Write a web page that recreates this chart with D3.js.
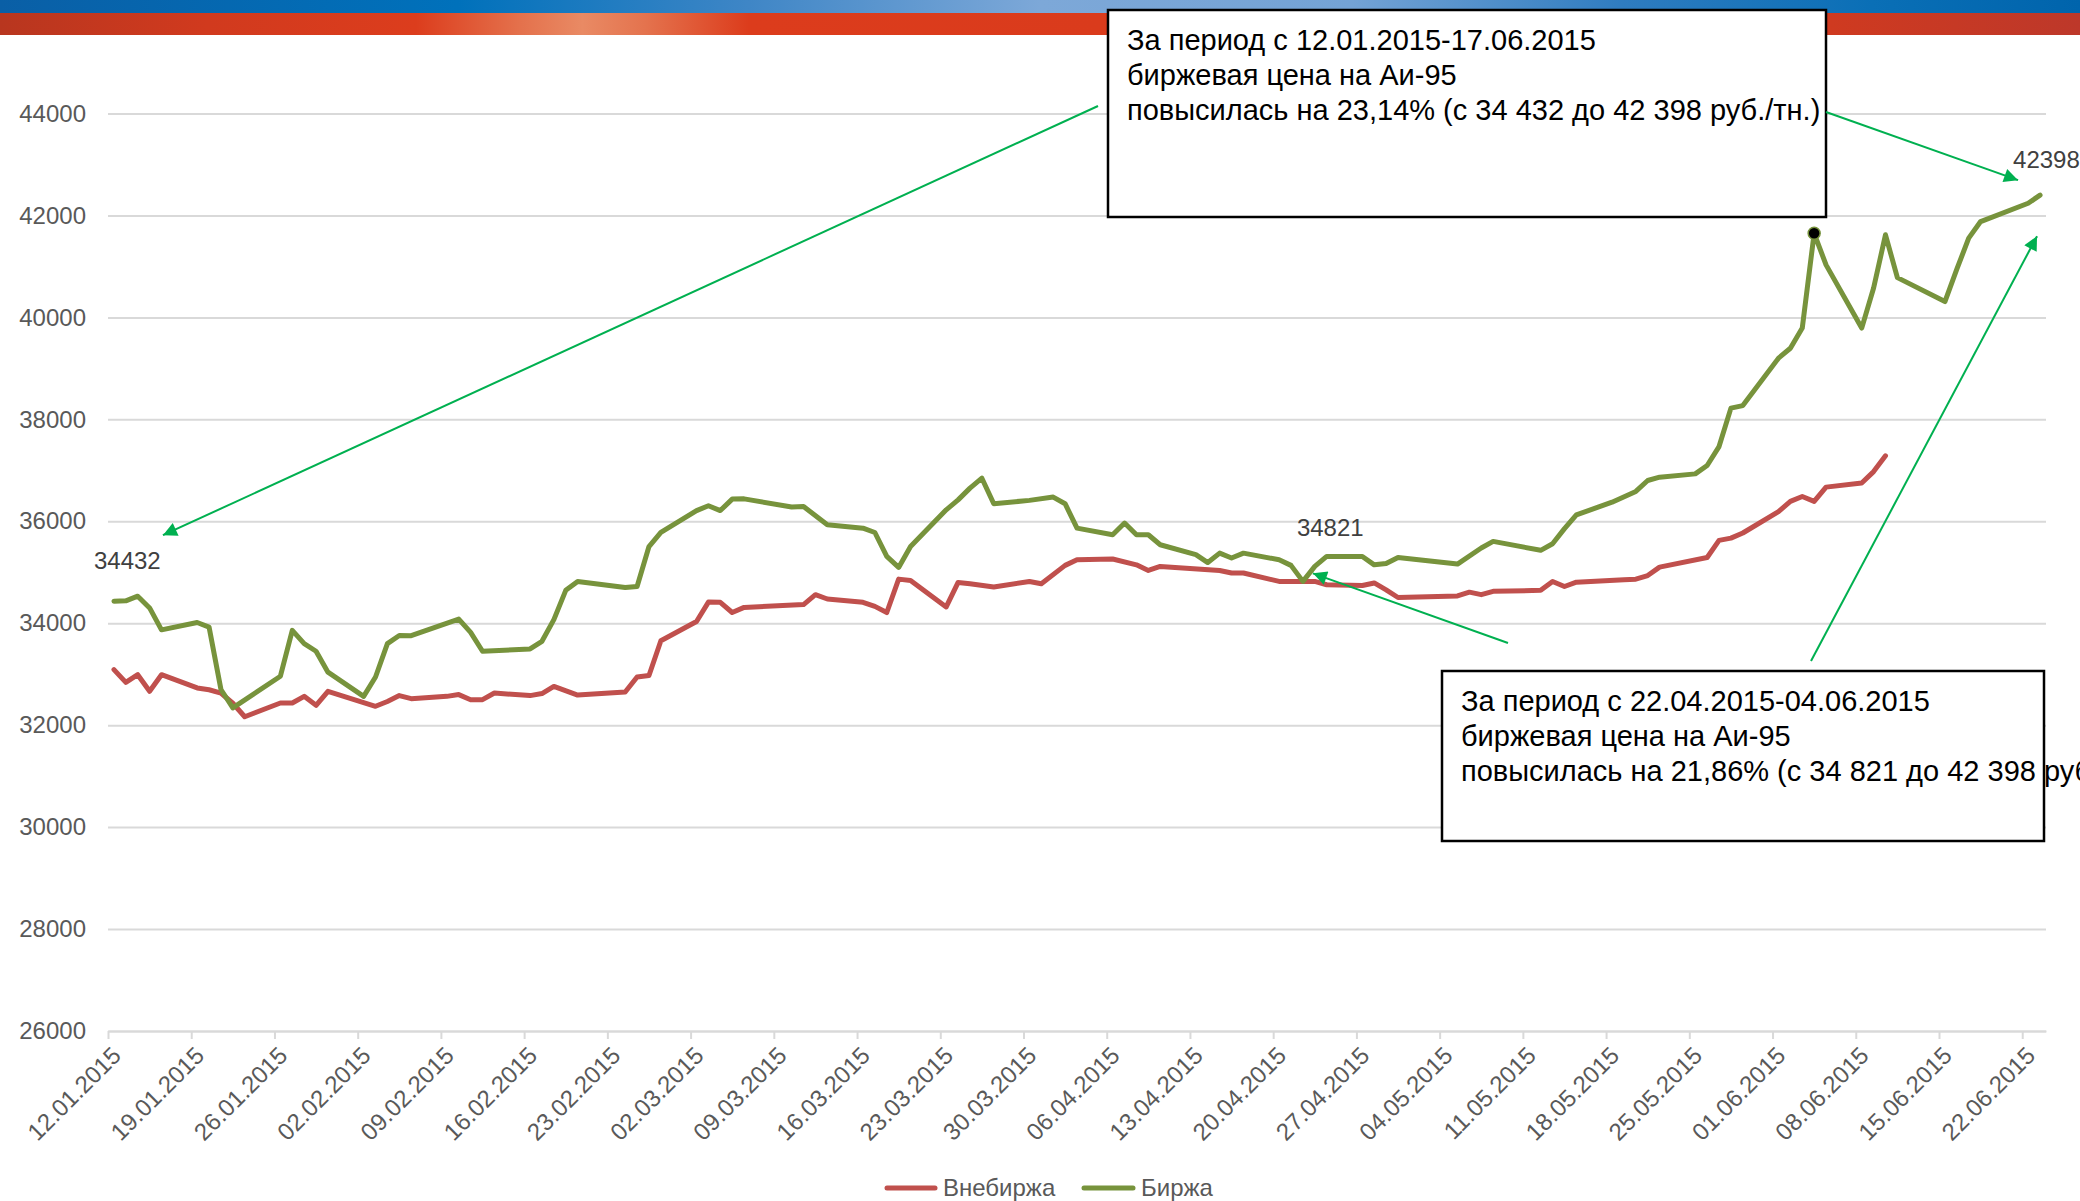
<!DOCTYPE html>
<html lang="ru">
<head>
<meta charset="utf-8">
<title>Биржа / Внебиржа</title>
<script src="https://cdn.jsdelivr.net/npm/d3@7"></script>
<style>
	html, body { margin: 0; padding: 0; background: #fff; overflow: hidden; }
	#canvas { width: 2080px; height: 1201px; }
	svg { display: block; font-family: 'Liberation Sans', Arial, sans-serif; }
</style>
</head>
<body>
<div id="canvas"></div>
<script>
// --- data ---
const birzhaDates = [
	'12.01.2015', '13.01.2015', '14.01.2015', '15.01.2015', '16.01.2015',
	'19.01.2015', '20.01.2015', '21.01.2015', '22.01.2015',
	'26.01.2015', '27.01.2015', '28.01.2015', '29.01.2015', '30.01.2015',
	'02.02.2015', '03.02.2015', '04.02.2015', '05.02.2015', '06.02.2015',
	'10.02.2015', '11.02.2015', '12.02.2015',
	'16.02.2015', '17.02.2015', '18.02.2015', '19.02.2015', '20.02.2015',
	'24.02.2015', '25.02.2015', '26.02.2015', '27.02.2015',
	'02.03.2015', '03.03.2015', '04.03.2015', '05.03.2015', '06.03.2015',
	'10.03.2015', '11.03.2015', '13.03.2015',
	'16.03.2015', '17.03.2015', '18.03.2015', '19.03.2015', '20.03.2015',
	'23.03.2015', '24.03.2015', '25.03.2015', '26.03.2015', '27.03.2015',
	'30.03.2015', '01.04.2015', '02.04.2015', '03.04.2015',
	'06.04.2015', '07.04.2015', '08.04.2015', '09.04.2015', '10.04.2015',
	'13.04.2015', '14.04.2015', '15.04.2015', '16.04.2015', '17.04.2015',
	'20.04.2015', '21.04.2015', '22.04.2015', '23.04.2015', '24.04.2015',
	'27.04.2015', '28.04.2015', '29.04.2015', '30.04.2015',
	'05.05.2015', '07.05.2015', '08.05.2015',
	'12.05.2015', '13.05.2015', '14.05.2015', '15.05.2015',
	'18.05.2015', '20.05.2015', '21.05.2015', '22.05.2015',
	'25.05.2015', '26.05.2015', '27.05.2015', '28.05.2015', '29.05.2015',
	'01.06.2015', '02.06.2015', '03.06.2015', '04.06.2015', '05.06.2015',
	'08.06.2015', '09.06.2015', '10.06.2015', '11.06.2015',
	'15.06.2015', '16.06.2015', '17.06.2015', '18.06.2015',
	'22.06.2015', '23.06.2015',
];
const birzhaValues = [
	34432, 34440, 34530, 34300, 33870,
	34015, 33925, 32700, 32340,
	32960, 33860, 33600, 33450, 33040,
	32565, 32945, 33600, 33760, 33755,
	34080, 33820, 33450,
	33495, 33645, 34070, 34645, 34820,
	34700, 34720, 35505, 35780,
	36210, 36305, 36210, 36435, 36440,
	36280, 36290, 35930,
	35865, 35780, 35310, 35095, 35505,
	36225, 36420, 36650, 36845, 36345,
	36410, 36475, 36345, 35865,
	35735, 35965, 35735, 35735, 35540,
	35345, 35190, 35375, 35280, 35375,
	35245, 35135, 34821, 35115, 35310,
	35310, 35145, 35170, 35290,
	35160, 35475, 35605,
	35430, 35560, 35855, 36125,
	36375, 36585, 36800, 36865,
	36930, 37095, 37465, 38220, 38270,
	39200, 39395, 39790, 41650, 41030,
	39790, 40575, 41620, 40780,
	40310, 40945, 41555, 41880,
	42240, 42398,
];

const vnebirzhaDates = [
	'12.01.2015', '13.01.2015', '14.01.2015', '15.01.2015', '16.01.2015',
	'19.01.2015', '20.01.2015', '21.01.2015', '22.01.2015', '23.01.2015',
	'26.01.2015', '27.01.2015', '28.01.2015', '29.01.2015', '30.01.2015',
	'03.02.2015', '04.02.2015', '05.02.2015', '06.02.2015',
	'09.02.2015', '10.02.2015', '11.02.2015', '12.02.2015', '13.02.2015',
	'16.02.2015', '17.02.2015', '18.02.2015', '20.02.2015',
	'24.02.2015', '25.02.2015', '26.02.2015', '27.02.2015',
	'02.03.2015', '03.03.2015', '04.03.2015', '05.03.2015', '06.03.2015',
	'11.03.2015', '12.03.2015', '13.03.2015',
	'16.03.2015', '17.03.2015', '18.03.2015', '19.03.2015', '20.03.2015',
	'23.03.2015', '24.03.2015', '25.03.2015', '27.03.2015',
	'30.03.2015', '31.03.2015', '02.04.2015', '03.04.2015',
	'06.04.2015', '08.04.2015', '09.04.2015', '10.04.2015',
	'15.04.2015', '16.04.2015', '17.04.2015',
	'20.04.2015', '23.04.2015', '24.04.2015',
	'27.04.2015', '28.04.2015', '29.04.2015', '30.04.2015',
	'05.05.2015', '06.05.2015', '07.05.2015', '08.05.2015',
	'12.05.2015', '13.05.2015', '14.05.2015', '15.05.2015',
	'19.05.2015', '20.05.2015', '21.05.2015', '22.05.2015',
	'26.05.2015', '27.05.2015', '28.05.2015', '29.05.2015',
	'01.06.2015', '02.06.2015', '03.06.2015', '04.06.2015', '05.06.2015',
	'08.06.2015', '09.06.2015', '10.06.2015',
];
const vnebirzhaValues = [
	33090, 32840, 32990, 32665, 32990,
	32730, 32695, 32630, 32430, 32165,
	32435, 32435, 32565, 32390, 32665,
	32370, 32465, 32580, 32520,
	32565, 32600, 32500, 32500, 32630,
	32580, 32620, 32760, 32590,
	32650, 32945, 32975, 33655,
	34035, 34415, 34410, 34210, 34310,
	34365, 34560, 34475,
	34410, 34330, 34210, 34865, 34840,
	34320, 34800, 34775, 34710,
	34820, 34775, 35135, 35245,
	35260, 35145, 35035, 35115,
	35035, 34985, 34985,
	34820, 34820, 34755,
	34740, 34790, 34655, 34505,
	34535, 34610, 34560, 34625,
	34645, 34820, 34720, 34805,
	34855, 34865, 34935, 35100,
	35290, 35625, 35670, 35770,
	36190, 36390, 36485, 36390, 36670,
	36750, 36975, 37285,
];

const yTicks = [26000, 28000, 30000, 32000, 34000, 36000, 38000, 40000, 42000, 44000];
const xTickLabels = [
	'12.01.2015', '19.01.2015', '26.01.2015', '02.02.2015', '09.02.2015', '16.02.2015',
	'23.02.2015', '02.03.2015', '09.03.2015', '16.03.2015', '23.03.2015', '30.03.2015',
	'06.04.2015', '13.04.2015', '20.04.2015', '27.04.2015', '04.05.2015', '11.05.2015',
	'18.05.2015', '25.05.2015', '01.06.2015', '08.06.2015', '15.06.2015', '22.06.2015',
];
const legendLabels = ['Внебиржа', 'Биржа'];
const pointLabelDates = ['12.01.2015', '22.04.2015', '23.06.2015'];
const highlightDate = '04.06.2015';

const noteOne = [
	'За период с 12.01.2015-17.06.2015',
	'биржевая цена на Аи-95',
	'повысилась на 23,14% (с 34 432 до 42 398 руб./тн.)',
];
const noteTwo = [
	'За период с 22.04.2015-04.06.2015',
	'биржевая цена на Аи-95',
	'повысилась на 21,86% (с 34 821 до 42 398 руб./тн.)',
];

// --- chart ---
const W = 2080;
const H = 1201;
const plot = { left: 108, right: 2046, top: 113.5, bottom: 1031 };
const colors = { red: '#c0504d', green: '#77933c', grid: '#d9d9d9', text: '#595959', arrow: '#00b050' };

const parseDate = d3.timeParse('%d.%m.%Y');
const midDay = s => d3.timeHour.offset(parseDate(s), 12);

const x = d3.scaleTime()
	.domain([parseDate('12.01.2015'), parseDate('24.06.2015')])
	.range([plot.left, plot.right]);
const y = d3.scaleLinear()
	.domain([yTicks[0], yTicks[yTicks.length - 1]])
	.range([plot.bottom, plot.top]);

const series = [
	{ name: legendLabels[0], color: colors.red, points: vnebirzhaDates.map((d, i) => ({ key: d, date: midDay(d), value: vnebirzhaValues[i] })) },
	{ name: legendLabels[1], color: colors.green, points: birzhaDates.map((d, i) => ({ key: d, date: midDay(d), value: birzhaValues[i] })) },
];
const birzha = series[1].points;
const findPoint = key => birzha.find(p => p.key === key);

const svg = d3.select('#canvas').append('svg')
	.attr('width', W)
	.attr('height', H)
	.attr('viewBox', `0 0 ${W} ${H}`);

const defs = svg.append('defs');

// top banner
const blueGrad = defs.append('linearGradient').attr('id', 'blueBand');
[[0, '#0a5fa6'], [0.22, '#0071bb'], [0.36, '#3f86c6'], [0.5, '#7da8d8'], [0.65, '#74a3d5'], [0.78, '#2f7cc0'], [0.9, '#0a6fb6'], [1, '#0064ac']]
	.forEach(([o, c]) => blueGrad.append('stop').attr('offset', o).attr('stop-color', c));
const redGrad = defs.append('linearGradient').attr('id', 'redBand');
[[0, '#b8361f'], [0.1, '#d13a1e'], [0.2, '#dc3d1d'], [0.25, '#e4714c'], [0.28, '#e98a64'], [0.31, '#e4734e'], [0.36, '#dc3c1c'], [0.7, '#d83a1c'], [0.88, '#cf3a20'], [1, '#bd382a']]
	.forEach(([o, c]) => redGrad.append('stop').attr('offset', o).attr('stop-color', c));

svg.append('rect').attr('x', 0).attr('y', 0).attr('width', W).attr('height', 13).attr('fill', 'url(#blueBand)');
svg.append('rect').attr('x', 0).attr('y', 13).attr('width', W).attr('height', 22).attr('fill', 'url(#redBand)');

defs.append('marker')
	.attr('id', 'arrowHead')
	.attr('viewBox', '0 0 10 10')
	.attr('refX', 10)
	.attr('refY', 5)
	.attr('markerUnits', 'userSpaceOnUse')
	.attr('markerWidth', 18)
	.attr('markerHeight', 14)
	.attr('orient', 'auto')
	.append('path')
	.attr('d', 'M0,0 L10,5 L0,10 z')
	.attr('fill', colors.arrow);

// gridlines + y labels
const yAxis = svg.append('g')
	.attr('transform', `translate(${plot.left},0)`)
	.call(d3.axisLeft(y).tickValues(yTicks).tickFormat(d3.format('d'))
		.tickSize(-(plot.right - plot.left)).tickPadding(22));
yAxis.select('.domain').remove();
yAxis.selectAll('line').attr('stroke', colors.grid).attr('stroke-width', 2);
yAxis.selectAll('text').attr('fill', colors.text).attr('font-size', 24);

// x axis
const xAxis = svg.append('g')
	.attr('transform', `translate(0,${plot.bottom})`)
	.call(d3.axisBottom(x).tickValues(xTickLabels.map(parseDate))
		.tickFormat(d3.timeFormat('%d.%m.%Y')).tickSizeInner(8).tickSizeOuter(0));
xAxis.select('.domain').attr('stroke', colors.grid).attr('stroke-width', 2);
xAxis.selectAll('line').attr('stroke', colors.grid).attr('stroke-width', 2);
xAxis.selectAll('text')
	.attr('fill', colors.text)
	.attr('font-size', 24)
	.attr('text-anchor', 'end')
	.attr('x', 0).attr('y', 0).attr('dy', 0)
	.attr('transform', 'translate(14,26) rotate(-45)');

// lines
const line = d3.line().x(d => x(d.date)).y(d => y(d.value));
svg.append('g').selectAll('path')
	.data(series)
	.join('path')
	.attr('d', d => line(d.points))
	.attr('fill', 'none')
	.attr('stroke', d => d.color)
	.attr('stroke-width', 5)
	.attr('stroke-linejoin', 'round')
	.attr('stroke-linecap', 'round');

// highlighted point
const hp = findPoint(highlightDate);
svg.append('circle')
	.attr('cx', x(hp.date)).attr('cy', y(hp.value)).attr('r', 6)
	.attr('fill', '#000').attr('stroke', colors.green).attr('stroke-width', 1.5);

// point labels
const labelOffsets = [[-20, -32], [-6, -45], [-27, -27]];
svg.append('g').selectAll('text')
	.data(pointLabelDates.map(findPoint))
	.join('text')
	.attr('x', (d, i) => x(d.date) + labelOffsets[i][0])
	.attr('y', (d, i) => y(d.value) + labelOffsets[i][1])
	.attr('font-size', 24)
	.attr('fill', '#404040')
	.text(d => d.value);

// annotation boxes
function noteBox(lines, bx, by, bw, bh, tx, ty) {
	const g = svg.append('g');
	g.append('rect').attr('x', bx).attr('y', by).attr('width', bw).attr('height', bh)
		.attr('fill', '#fff');
	g.append('text')
		.attr('font-size', 29)
		.attr('fill', '#000')
		.selectAll('tspan')
		.data(lines)
		.join('tspan')
		.attr('x', tx)
		.attr('y', (d, i) => ty + i * 35)
		.text(d => d);
	g.append('rect').attr('x', bx).attr('y', by).attr('width', bw).attr('height', bh)
		.attr('fill', 'none').attr('stroke', '#000').attr('stroke-width', 2.5);
}
noteBox(noteOne, 1108, 10, 718, 207, 1127, 50);
noteBox(noteTwo, 1442, 671, 602, 170, 1461, 711);

// arrows: tail -> tip (tips tied to data points)
const p0 = findPoint(pointLabelDates[0]);
const p1 = findPoint(pointLabelDates[1]);
const p2 = findPoint(pointLabelDates[2]);
const arrows = [
	{ x1: 1098, y1: 106, x2: x(p0.date) + 49, y2: y(p0.value) - 66 },
	{ x1: 1826, y1: 112, x2: x(p2.date) - 22, y2: y(p2.value) - 15 },
	{ x1: 1508, y1: 643, x2: x(p1.date) + 10, y2: y(p1.value) - 8 },
	{ x1: 1811, y1: 661, x2: x(p2.date) - 3, y2: y(p2.value) + 41 },
];
svg.append('g').selectAll('line')
	.data(arrows)
	.join('line')
	.attr('x1', d => d.x1).attr('y1', d => d.y1)
	.attr('x2', d => d.x2).attr('y2', d => d.y2)
	.attr('stroke', colors.arrow)
	.attr('stroke-width', 2)
	.attr('marker-end', 'url(#arrowHead)');

// legend
const legendItems = [
	{ label: legendLabels[0], color: colors.red, x1: 887, x2: 935, tx: 943 },
	{ label: legendLabels[1], color: colors.green, x1: 1084, x2: 1133, tx: 1141 },
];
const legend = svg.append('g').attr('transform', 'translate(0,1188)');
legend.selectAll('line')
	.data(legendItems)
	.join('line')
	.attr('x1', d => d.x1).attr('x2', d => d.x2)
	.attr('y1', 0).attr('y2', 0)
	.attr('stroke', d => d.color)
	.attr('stroke-width', 5)
	.attr('stroke-linecap', 'round');
legend.selectAll('text')
	.data(legendItems)
	.join('text')
	.attr('x', d => d.tx)
	.attr('y', 0)
	.attr('dy', '0.35em')
	.attr('font-size', 24)
	.attr('fill', colors.text)
	.text(d => d.label);
</script>
</body>
</html>
